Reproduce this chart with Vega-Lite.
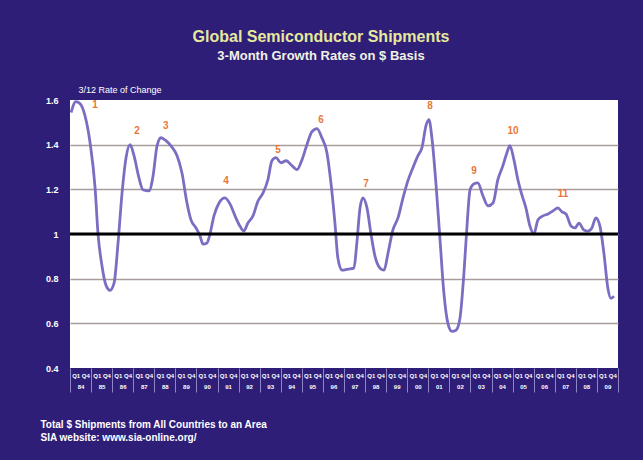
{
  "$schema": "https://vega.github.io/schema/vega-lite/v6.json",
  "width": 548,
  "height": 268,
  "autosize": {"type": "none"},
  "padding": {"left": 70, "top": 100, "right": 25, "bottom": 92},
  "background": "#2e1e78",
  "config": {"font": "Liberation Sans", "view": {"fill": "white", "stroke": null}},
  "title": {
    "text": "Global Semiconductor Shipments",
    "subtitle": "3-Month Growth Rates on $ Basis",
    "color": "#e6e89c",
    "subtitleColor": "#f2f2e4",
    "fontSize": 16,
    "subtitleFontSize": 13,
    "fontWeight": "bold",
    "subtitleFontWeight": "bold",
    "anchor": "middle",
    "frame": "group",
    "dx": -23,
    "offset": 22,
    "subtitlePadding": 5
  },
  "datasets": {
    "series": [
      {"t": 1984.05, "v": 1.544}, {"t": 1984.28, "v": 1.593}, {"t": 1984.47, "v": 1.584}, {"t": 1984.71, "v": 1.53},
      {"t": 1984.95, "v": 1.41}, {"t": 1985.19, "v": 1.207}, {"t": 1985.33, "v": 1.0}, {"t": 1985.52, "v": 0.856},
      {"t": 1985.71, "v": 0.77}, {"t": 1985.9, "v": 0.748}, {"t": 1986.09, "v": 0.78}, {"t": 1986.28, "v": 0.96},
      {"t": 1986.47, "v": 1.184}, {"t": 1986.66, "v": 1.342}, {"t": 1986.85, "v": 1.4}, {"t": 1987.04, "v": 1.35},
      {"t": 1987.27, "v": 1.252}, {"t": 1987.46, "v": 1.198}, {"t": 1987.75, "v": 1.193}, {"t": 1987.94, "v": 1.26},
      {"t": 1988.13, "v": 1.395}, {"t": 1988.32, "v": 1.431}, {"t": 1988.55, "v": 1.418}, {"t": 1988.79, "v": 1.395},
      {"t": 1989.08, "v": 1.35}, {"t": 1989.31, "v": 1.274}, {"t": 1989.55, "v": 1.139}, {"t": 1989.74, "v": 1.063},
      {"t": 1989.98, "v": 1.027}, {"t": 1990.17, "v": 0.991}, {"t": 1990.31, "v": 0.955}, {"t": 1990.5, "v": 0.96},
      {"t": 1990.64, "v": 1.0}, {"t": 1990.83, "v": 1.081}, {"t": 1991.07, "v": 1.139}, {"t": 1991.35, "v": 1.162},
      {"t": 1991.59, "v": 1.135}, {"t": 1991.83, "v": 1.081}, {"t": 1992.06, "v": 1.036}, {"t": 1992.25, "v": 1.013},
      {"t": 1992.44, "v": 1.049}, {"t": 1992.68, "v": 1.081}, {"t": 1992.92, "v": 1.148}, {"t": 1993.16, "v": 1.184},
      {"t": 1993.39, "v": 1.243}, {"t": 1993.58, "v": 1.328}, {"t": 1993.77, "v": 1.342}, {"t": 1994.01, "v": 1.319},
      {"t": 1994.25, "v": 1.328}, {"t": 1994.53, "v": 1.306}, {"t": 1994.77, "v": 1.288}, {"t": 1995.01, "v": 1.333},
      {"t": 1995.24, "v": 1.4}, {"t": 1995.48, "v": 1.458}, {"t": 1995.72, "v": 1.472}, {"t": 1995.95, "v": 1.431},
      {"t": 1996.19, "v": 1.364}, {"t": 1996.38, "v": 1.229}, {"t": 1996.57, "v": 1.049}, {"t": 1996.71, "v": 0.892},
      {"t": 1996.9, "v": 0.838}, {"t": 1997.19, "v": 0.843}, {"t": 1997.47, "v": 0.847}, {"t": 1997.61, "v": 0.96},
      {"t": 1997.76, "v": 1.117}, {"t": 1997.9, "v": 1.162}, {"t": 1998.09, "v": 1.117}, {"t": 1998.28, "v": 1.0},
      {"t": 1998.47, "v": 0.901}, {"t": 1998.71, "v": 0.847}, {"t": 1998.9, "v": 0.838}, {"t": 1999.09, "v": 0.915},
      {"t": 1999.32, "v": 1.018}, {"t": 1999.56, "v": 1.072}, {"t": 1999.8, "v": 1.162}, {"t": 2000.03, "v": 1.238},
      {"t": 2000.27, "v": 1.297}, {"t": 2000.51, "v": 1.351}, {"t": 2000.7, "v": 1.387}, {"t": 2000.89, "v": 1.485},
      {"t": 2001.03, "v": 1.512}, {"t": 2001.17, "v": 1.431}, {"t": 2001.36, "v": 1.229}, {"t": 2001.55, "v": 0.982},
      {"t": 2001.74, "v": 0.735}, {"t": 2001.93, "v": 0.6}, {"t": 2002.12, "v": 0.564}, {"t": 2002.31, "v": 0.569},
      {"t": 2002.5, "v": 0.622}, {"t": 2002.69, "v": 0.825}, {"t": 2002.83, "v": 1.027}, {"t": 2002.98, "v": 1.198},
      {"t": 2003.17, "v": 1.225}, {"t": 2003.35, "v": 1.229}, {"t": 2003.59, "v": 1.171}, {"t": 2003.83, "v": 1.126},
      {"t": 2004.07, "v": 1.139}, {"t": 2004.3, "v": 1.243}, {"t": 2004.54, "v": 1.306}, {"t": 2004.73, "v": 1.364},
      {"t": 2004.87, "v": 1.396}, {"t": 2005.06, "v": 1.333}, {"t": 2005.25, "v": 1.243}, {"t": 2005.44, "v": 1.175},
      {"t": 2005.63, "v": 1.117}, {"t": 2005.82, "v": 1.036}, {"t": 2006.01, "v": 1.0}, {"t": 2006.2, "v": 1.063},
      {"t": 2006.44, "v": 1.081}, {"t": 2006.68, "v": 1.09}, {"t": 2006.91, "v": 1.103}, {"t": 2007.15, "v": 1.117},
      {"t": 2007.34, "v": 1.099}, {"t": 2007.53, "v": 1.09}, {"t": 2007.77, "v": 1.036}, {"t": 2007.96, "v": 1.027},
      {"t": 2008.15, "v": 1.049}, {"t": 2008.38, "v": 1.018}, {"t": 2008.57, "v": 1.013}, {"t": 2008.76, "v": 1.027},
      {"t": 2008.95, "v": 1.072}, {"t": 2009.14, "v": 1.036}, {"t": 2009.33, "v": 0.915}, {"t": 2009.52, "v": 0.757},
      {"t": 2009.66, "v": 0.712}, {"t": 2009.81, "v": 0.721}
    ],
    "peaks": [
      {"t": 1985.19, "v": 1.578, "label": "1"},
      {"t": 1987.18, "v": 1.463, "label": "2"},
      {"t": 1988.55, "v": 1.485, "label": "3"},
      {"t": 1991.4, "v": 1.238, "label": "4"},
      {"t": 1993.87, "v": 1.378, "label": "5"},
      {"t": 1995.91, "v": 1.512, "label": "6"},
      {"t": 1998.04, "v": 1.225, "label": "7"},
      {"t": 2001.08, "v": 1.571, "label": "8"},
      {"t": 2003.17, "v": 1.283, "label": "9"},
      {"t": 2005.02, "v": 1.463, "label": "10"},
      {"t": 2007.39, "v": 1.18, "label": "11"}
    ],
    "baseline": [{"v": 1}]
  },
  "layer": [
    {
      "data": {"name": "series"},
      "mark": {"type": "line", "color": "#7a6ec2", "strokeWidth": 2.8, "interpolate": "monotone"},
      "encoding": {
        "x": {
          "field": "t", "type": "quantitative",
          "scale": {"domain": [1984, 2010], "nice": false, "zero": false},
          "axis": {
            "values": [1984,1985,1986,1987,1988,1989,1990,1991,1992,1993,1994,1995,1996,1997,1998,1999,2000,2001,2002,2003,2004,2005,2006,2007,2008,2009,2010],
            "tickCount": 40,
            "labelExpr": "datum.value >= 2010 ? '' : ['Q1 Q4', slice(toString(datum.value), 2)]",
            "labelOffset": 10.5,
            "labelColor": "white",
            "labelFontSize": 6,
            "labelFontWeight": "bold",
            "labelLineHeight": 11,
            "labelPadding": -20,
            "labelOverlap": false,
            "labelFlush": false,
            "ticks": true,
            "tickSize": 24,
            "tickColor": "#8f86c8",
            "tickWidth": 1,
            "domain": false,
            "grid": false,
            "title": ["Total $ Shipments from All Countries to an Area", "SIA website: www.sia-online.org/"],
            "titleColor": "white",
            "titleFontSize": 10,
            "titleFontWeight": "bold",
            "titleAnchor": "start",
            "titleAlign": "left",
            "titleBaseline": "top",
            "titleX": -30,
            "titleY": 51,
            "titleLineHeight": 13
          }
        },
        "y": {
          "field": "v", "type": "quantitative",
          "scale": {"domain": [0.4, 1.6], "nice": false, "zero": false},
          "axis": {
            "values": [0.4, 0.6, 0.8, 1, 1.2, 1.4, 1.6],
            "format": "~g",
            "labelColor": "white",
            "labelFontSize": 9,
            "labelFontWeight": "bold",
            "labelPadding": 12,
            "ticks": false,
            "domain": false,
            "grid": true,
            "gridColor": {"condition": {"test": "datum.value == 0.4 || datum.value == 1.6", "value": "transparent"}, "value": "#a89c9c"},
            "gridWidth": 1.5,
            "title": "3/12 Rate of Change",
            "titleAngle": 0,
            "titleAlign": "left",
            "titleBaseline": "alphabetic",
            "titleX": 8,
            "titleY": -8,
            "titleColor": "white",
            "titleFontSize": 9,
            "titleFontWeight": "normal"
          }
        }
      }
    },
    {
      "data": {"name": "baseline"},
      "mark": {"type": "rule", "color": "black", "strokeWidth": 3},
      "encoding": {"y": {"field": "v", "type": "quantitative"}}
    },
    {
      "data": {"name": "peaks"},
      "mark": {"type": "text", "color": "#e8783a", "fontWeight": "bold", "fontSize": 10},
      "encoding": {
        "x": {"field": "t", "type": "quantitative"},
        "y": {"field": "v", "type": "quantitative"},
        "text": {"field": "label"}
      }
    }
  ]
}
